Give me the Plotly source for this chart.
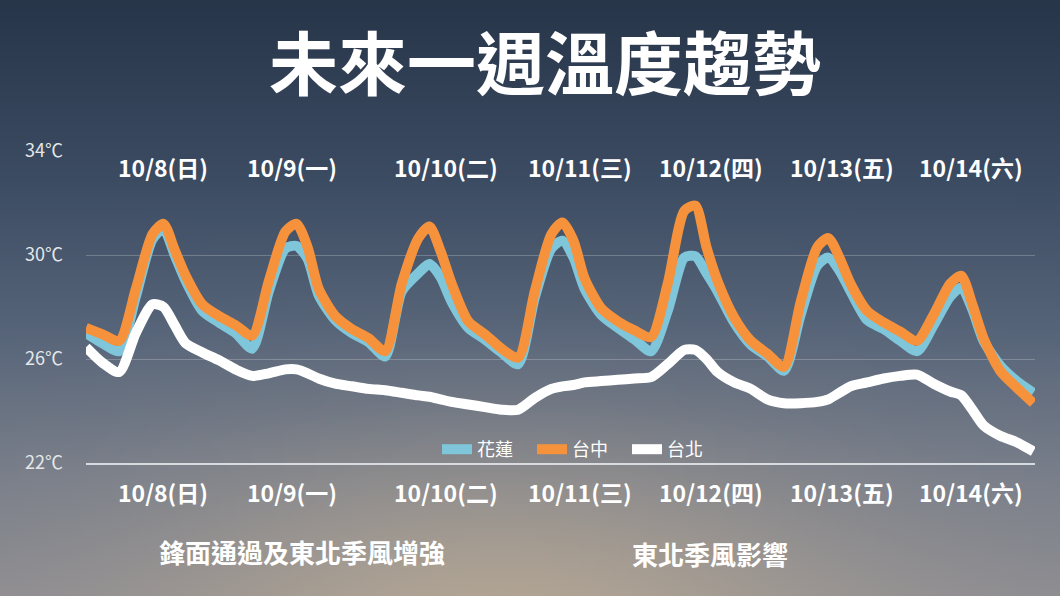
import base64
import struct
import zlib

import numpy as np
import plotly.graph_objects as go

# ---------------- data ----------------
# hours counted from 10/8 00:00
hours = [0, 3, 6, 9, 12, 14, 16, 18, 21,
         24, 27, 30, 33, 36, 38, 40, 42, 45,
         48, 51, 54, 57, 60, 62, 64, 66, 69,
         72, 75, 78, 81, 84, 86, 88, 90, 93,
         96, 99, 102, 105, 108, 110, 112, 114, 117,
         120, 123, 126, 129, 132, 134, 136, 138, 141,
         144, 147, 150, 153, 156, 158, 160, 162, 165,
         168, 171]

hualien = [27.0, 26.6, 26.3, 28.4, 30.6, 31.0, 30.0, 29.0, 27.85,
           27.4, 27.0, 26.4, 28.6, 30.25, 30.35, 29.85, 28.45, 27.5,
           27.0, 26.65, 26.1, 28.6, 29.3, 29.65, 29.15, 28.2, 27.2,
           26.75, 26.25, 25.8, 28.35, 30.25, 30.55, 29.9, 28.7, 27.7,
           27.2, 26.75, 26.3, 27.85, 29.9, 29.95, 29.3, 28.6, 27.4,
           26.55, 26.1, 25.55, 27.7, 29.6, 29.9, 29.4, 28.6, 27.5,
           27.15, 26.7, 26.3, 27.3, 28.4, 28.75, 27.9, 26.7, 25.75,
           25.15, 24.7]

taichung = [27.2, 26.95, 26.7, 28.7, 30.8, 31.2, 30.2, 29.2, 28.1,
            27.65, 27.3, 26.9, 29.0, 30.9, 31.2, 30.3, 28.7, 27.65,
            27.15, 26.8, 26.3, 28.9, 30.65, 31.1, 30.15, 28.9, 27.45,
            26.95, 26.4, 26.05, 28.6, 30.8, 31.25, 30.55, 29.1, 27.95,
            27.45, 27.1, 26.85, 28.9, 31.7, 31.9, 30.3, 29.0, 27.6,
            26.7, 26.2, 25.7, 28.2, 30.3, 30.65, 29.9, 28.9, 27.85,
            27.4, 27.05, 26.7, 27.7, 28.9, 29.2, 28.1, 26.8, 25.55,
            24.9, 24.3]

taipei = [26.45, 25.85, 25.5, 27.0, 28.1, 28.0, 27.3, 26.6, 26.25,
          25.95, 25.6, 25.35, 25.45, 25.6, 25.6, 25.45, 25.25, 25.05,
          24.95, 24.85, 24.8, 24.7, 24.6, 24.55, 24.45, 24.35, 24.25,
          24.15, 24.05, 24.05, 24.5, 24.85, 24.95, 25.0, 25.1, 25.15,
          25.2, 25.25, 25.3, 25.8, 26.35, 26.35, 26.0, 25.5, 25.1,
          24.85, 24.45, 24.3, 24.3, 24.35, 24.45, 24.7, 24.95, 25.1,
          25.25, 25.35, 25.4, 25.05, 24.75, 24.6, 24.05, 23.45, 23.05,
          22.8, 22.45]

series_names = ["花蓮", "台中", "台北"]
day_labels = ["10/8(日)", "10/9(一)", "10/10(二)", "10/11(三)",
              "10/12(四)", "10/13(五)", "10/14(六)"]
y_tick_vals = [22, 26, 30, 34]
y_tick_text = ["22℃", "26℃", "30℃", "34℃"]
title_text = "未來一週溫度趨勢"
notes = ["鋒面通過及東北季風增強", "東北季風影響"]

# ---------------- layout helpers ----------------
W, H = 1060, 596
FONT = "Noto Sans CJK TC"


def px_x(p):
    return p / W


def px_y(p):
    return 1 - p / H


def png_uri(arr):
    h, w, _ = arr.shape
    raw = b"".join(b"\x00" + arr[r].tobytes() for r in range(h))

    def chunk(tag, data):
        c = struct.pack(">I", len(data)) + tag + data
        return c + struct.pack(">I", zlib.crc32(tag + data) & 0xFFFFFFFF)

    png = (b"\x89PNG\r\n\x1a\n"
           + chunk(b"IHDR", struct.pack(">IIBBBBB", w, h, 8, 2, 0, 0, 0))
           + chunk(b"IDAT", zlib.compress(raw, 9))
           + chunk(b"IEND", b""))
    return "data:image/png;base64," + base64.b64encode(png).decode()


# background: sky gradient with a warm glow at the bottom
gw, gh = 265, 149
yy, xx = np.mgrid[0:gh, 0:gw].astype(float)
t = yy / (gh - 1)
stops_t = [0.0, 0.3, 0.55, 0.8, 1.0]
stops_c = np.array([[40, 54, 74], [60, 76, 98], [86, 100, 121],
                    [120, 126, 138], [140, 140, 146]], float)
base = np.stack([np.interp(t, stops_t, stops_c[:, k]) for k in range(3)], -1)
cx, cy = 0.47 * gw, 1.08 * gh
d2 = ((xx - cx) / (0.33 * gw)) ** 2 + ((yy - cy) / (0.30 * gh)) ** 2
wgt = (np.exp(-d2) * 0.85)[..., None]
warm = np.array([186, 170, 148], float)
img = base * (1 - wgt) + warm * wgt
bg_uri = png_uri(np.clip(img, 0, 255).astype(np.uint8))

# ---------------- figure ----------------
colors = ["#7fc6da", "#f7923c", "#ffffff"]
fig = go.Figure()
for name, vals, col in zip(series_names, [hualien, taichung, taipei], colors):
    fig.add_trace(go.Scatter(
        x=hours, y=vals, name=name, mode="lines",
        line=dict(color=col, width=10, shape="spline", smoothing=0.7),
        hoverinfo="skip"))

annotations = [dict(text=title_text, x=px_x(545), y=px_y(60), xref="paper", yref="paper",
                    showarrow=False, xanchor="center", yanchor="middle",
                    font=dict(family=FONT, size=69, color="white", weight="bold"))]
label_px = [163, 292, 446, 580, 711, 842, 971]
for lab, lx in zip(day_labels, label_px):
    for ly in (167, 492):
        annotations.append(dict(text=lab, x=px_x(lx), y=px_y(ly), xref="paper", yref="paper",
                                showarrow=False, xanchor="center", yanchor="middle",
                                font=dict(family=FONT, size=23, color="white", weight="bold")))
for txt, nx, ny in zip(notes, [302, 710], [551, 553]):
    annotations.append(dict(text=txt, x=px_x(nx), y=px_y(ny), xref="paper", yref="paper",
                            showarrow=False, xanchor="center", yanchor="middle",
                            font=dict(family=FONT, size=26, color="white", weight="bold")))

fig.update_layout(
    width=W, height=H,
    margin=dict(l=0, r=0, t=0, b=0, pad=0, autoexpand=False),
    paper_bgcolor="rgba(0,0,0,0)", plot_bgcolor="rgba(0,0,0,0)",
    images=[dict(source=bg_uri, xref="paper", yref="paper", x=0, y=1,
                 sizex=1, sizey=1, sizing="stretch", xanchor="left",
                 yanchor="top", layer="below")],
    xaxis=dict(domain=[86 / W, 1035 / W], range=[0, 171.3], showgrid=False,
               zeroline=False, showticklabels=False, ticks="", automargin=False,
               showline=True, linecolor="rgba(225,228,232,0.9)", linewidth=2),
    yaxis=dict(domain=[133 / H, 445 / H], range=[22, 34], tickvals=y_tick_vals,
               ticktext=y_tick_text, showgrid=True, automargin=False,
               gridcolor="rgba(255,255,255,0.22)", gridwidth=1, zeroline=False,
               ticks="", ticklabelstandoff=22,
               tickfont=dict(family=FONT, size=18, color="#e4e7ea")),
    legend=dict(orientation="h", x=px_x(437), y=px_y(431), xanchor="left",
                yanchor="top", bgcolor="rgba(0,0,0,0)", entrywidth=50,
                font=dict(family=FONT, size=18, color="white")),
    showlegend=True,
    annotations=annotations,
)

fig.write_html(
    "out.html",
    config={"displayModeBar": False},
    post_script="document.documentElement.style.margin='0';"
                "document.body.style.margin='0';"
                "document.body.style.padding='0';"
                "document.body.style.overflow='hidden';"
                "document.body.style.background='#2c3a4e';",
)
